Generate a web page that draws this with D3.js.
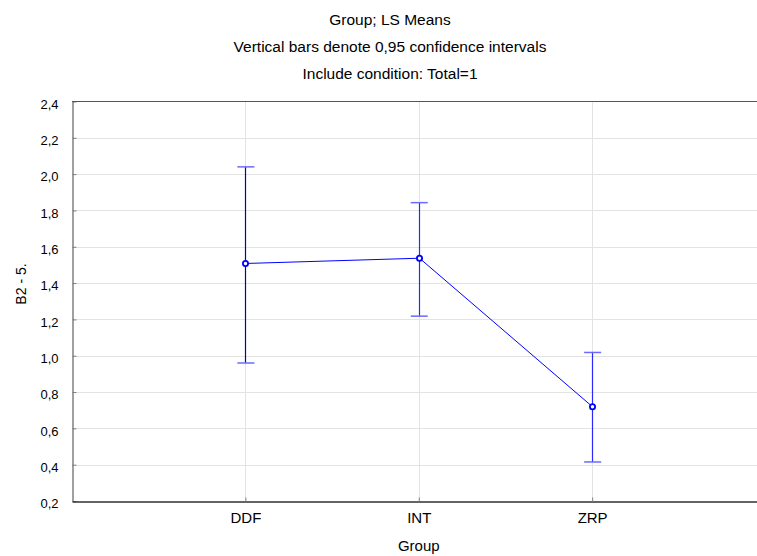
<!DOCTYPE html>
<html>
<head>
<meta charset="utf-8">
<script src="https://cdn.jsdelivr.net/npm/d3@7"></script>
<style>
  html, body { margin: 0; padding: 0; background: #fff; overflow: hidden; }
  svg { display: block; }
  text { font-family: "Liberation Sans", Arial, sans-serif; fill: #000; }
</style>
</head>
<body>
<svg id="chart" width="800" height="556"></svg>
<script>
// LS means by group with 0.95 confidence intervals
const groups = ["DDF", "INT", "ZRP"];
const means = [1.508, 1.537, 0.719];
const lower = [0.96, 1.218, 0.415];
const upper = [2.04, 1.843, 1.018];
const yTicks = [0.2, 0.4, 0.6, 0.8, 1.0, 1.2, 1.4, 1.6, 1.8, 2.0, 2.2, 2.4];
const titleLines = [
  "Group; LS Means",
  "Vertical bars denote 0,95 confidence intervals",
  "Include condition: Total=1"
];

const svg = d3.select("#chart");
const plotLeft = 72, plotTop = 101.5, plotBottom = 501, plotRight = 765.5;

const x = d3.scalePoint().domain(groups).range([plotLeft, plotRight]).padding(1);
const y = d3.scaleLinear().domain([0.2, 2.4]).range([plotBottom, plotTop]);
const fmt = v => d3.format(".1f")(v).replace(".", ",");

// grid (the plot area runs past the right edge of the page)
svg.append("g").selectAll("line").data(yTicks.slice(1, -1)).join("line")
  .attr("x1", plotLeft).attr("x2", plotRight)
  .attr("y1", d => Math.round(y(d)) + 0.5).attr("y2", d => Math.round(y(d)) + 0.5)
  .attr("stroke", "#e3e3e3").attr("stroke-width", 1);
svg.append("g").selectAll("line").data(groups).join("line")
  .attr("x1", d => Math.round(x(d)) + 0.5).attr("x2", d => Math.round(x(d)) + 0.5)
  .attr("y1", plotTop).attr("y2", plotBottom)
  .attr("stroke", "#e3e3e3").attr("stroke-width", 1);

// y axis (ticks pointing inward)
const yAxis = svg.append("g").attr("transform", `translate(${plotLeft + 0.5},0)`)
  .call(d3.axisLeft(y).tickValues(yTicks).tickFormat(fmt).tickSize(-4).tickSizeOuter(0).tickPadding(14));
yAxis.select(".domain").attr("stroke", "#404040");
yAxis.selectAll(".tick line").attr("stroke", "#808080");
yAxis.selectAll("text").attr("font-size", 13).attr("fill", "#000").attr("dy", "0.52em");

// x axis
const xAxis = svg.append("g").attr("transform", `translate(0,${plotBottom + 0.5})`)
  .call(d3.axisBottom(x).tickSize(-4).tickSizeOuter(0).tickPadding(11));
xAxis.select(".domain").attr("stroke", "#303030").attr("stroke-width", 1.5);
xAxis.selectAll(".tick line").attr("stroke", "#808080");
xAxis.selectAll("text").attr("font-size", 15).attr("fill", "#000");

// top frame line
svg.append("line").attr("x1", plotLeft).attr("x2", plotRight)
  .attr("y1", plotTop).attr("y2", plotTop).attr("stroke", "#555").attr("stroke-width", 1.2);

// titles
svg.append("g").selectAll("text").data(titleLines).join("text")
  .attr("x", 390).attr("y", (d, i) => 24.5 + i * 27)
  .attr("text-anchor", "middle").attr("font-size", 15.5)
  .text(d => d);

// axis titles
svg.append("text").attr("x", (plotLeft + plotRight) / 2).attr("y", 551)
  .attr("text-anchor", "middle").attr("font-size", 15).text("Group");
svg.append("text").attr("transform", "translate(25.5,284) rotate(-90)")
  .attr("text-anchor", "middle").attr("font-size", 14).text("B2 - 5.");

// means with confidence-interval whiskers
const rows = groups.map((g, i) => ({ g, m: means[i], lo: lower[i], hi: upper[i] }));
const plot = svg.append("g");

plot.append("g").selectAll("line").data(rows).join("line")
  .attr("x1", d => Math.round(x(d.g)) + 0.5).attr("x2", d => Math.round(x(d.g)) + 0.5)
  .attr("y1", d => y(d.hi)).attr("y2", d => y(d.lo))
  .attr("stroke", (d, i) => i === 0 ? "#0000c0" : "#2a2aff").attr("stroke-width", 1.2);

plot.append("g").selectAll("line").data(rows).join("line")
  .attr("x1", d => x(d.g) - 8).attr("x2", d => x(d.g) + 9)
  .attr("y1", d => y(d.hi)).attr("y2", d => y(d.hi))
  .attr("stroke", "#6a6aff").attr("stroke-width", 1.5);
plot.append("g").selectAll("line").data(rows).join("line")
  .attr("x1", d => x(d.g) - 8).attr("x2", d => x(d.g) + 9)
  .attr("y1", d => y(d.lo)).attr("y2", d => y(d.lo))
  .attr("stroke", "#6a6aff").attr("stroke-width", 1.5);

plot.append("path").datum(rows)
  .attr("d", d3.line().x(d => Math.round(x(d.g)) + 0.5).y(d => y(d.m)))
  .attr("fill", "none").attr("stroke", "#0000ff").attr("stroke-width", 1);

plot.append("g").selectAll("circle").data(rows).join("circle")
  .attr("cx", d => Math.round(x(d.g)) + 0.5).attr("cy", d => y(d.m)).attr("r", 2.6)
  .attr("fill", "#fff").attr("stroke", "#0000ff").attr("stroke-width", 1.8);
</script>
</body>
</html>
